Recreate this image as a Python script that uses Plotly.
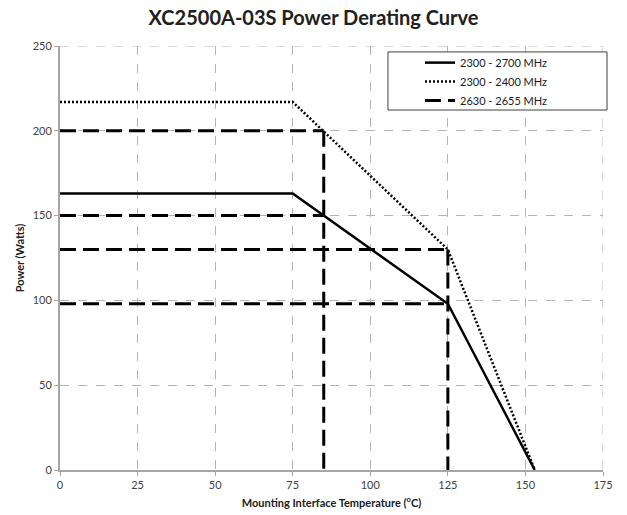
import plotly.graph_objects as go

# Data
solid_x = [0, 75, 125, 153]
solid_y = [163, 163, 98, 0]
dot_x = [0, 75, 125, 153]
dot_y = [217, 217, 130, 0]
# reference lines (2630 - 2655 MHz), segments separated by None
dash_x = [0, 85, None, 0, 85, None, 85, 85, None, 0, 125, None, 0, 125, None, 125, 125]
dash_y = [200, 200, None, 150, 150, None, 200, 0, None, 130, 130, None, 98, 98, None, 130, 0]

names = ["2300 - 2700 MHz", "2300 - 2400 MHz", "2630 - 2655 MHz"]
x_ticks = [0, 25, 50, 75, 100, 125, 150, 175]
y_ticks = [0, 50, 100, 150, 200, 250]

FONT = "Lato, Open Sans, sans-serif"

fig = go.Figure()
fig.add_trace(go.Scatter(x=solid_x, y=solid_y, mode="lines", name=names[0],
                         line=dict(color="black", width=2.5)))
fig.add_trace(go.Scatter(x=dot_x, y=dot_y, mode="lines", name=names[1],
                         line=dict(color="black", width=2.5, dash="2px,2px")))
fig.add_trace(go.Scatter(x=dash_x, y=dash_y, mode="lines", name=names[2],
                         connectgaps=False,
                         line=dict(color="black", width=3, dash="16px,7px")))

grid = "#b4b4b4"
axis_font = dict(family=FONT, size=11, color="#404040")
fig.update_layout(
    width=627, height=515,
    margin=dict(l=60, r=24, t=46, b=45, autoexpand=False),
    paper_bgcolor="white", plot_bgcolor="white",
    title=dict(text="<b>XC2500A-03S Power Derating Curve</b>", x=0.5, xanchor="center",
               y=1 - 18 / 515, yanchor="middle", yref="container",
               font=dict(family=FONT, size=20, color="#202020")),
    xaxis=dict(range=[0, 175], tickvals=x_ticks, showgrid=True, gridcolor=grid,
               griddash="dash", gridwidth=1, showline=True, linecolor="#a6a6a6", linewidth=2,
               ticks="outside", ticklen=4, tickcolor="#a6a6a6", zeroline=False,
               tickfont=axis_font, automargin=False,
               title=dict(text="<b>Mounting Interface Temperature (<sup>o</sup>C)</b>",
                          font=dict(family=FONT, size=11, color="#202020"),
                          standoff=9)),
    yaxis=dict(range=[0, 250], tickvals=y_ticks, showgrid=True, gridcolor=grid,
               griddash="dash", gridwidth=1, showline=True, linecolor="#a6a6a6", linewidth=2,
               ticks="outside", ticklen=4, tickcolor="#a6a6a6", zeroline=False,
               tickfont=axis_font, automargin=False,
               title=dict(text="<b>Power (Watts)</b>",
                          font=dict(family=FONT, size=11, color="#202020"),
                          standoff=6)),
    legend=dict(x=0.663, xanchor="left", y=0.995, yanchor="top",
                bgcolor="rgba(0,0,0,0)", borderwidth=0,
                font=dict(family=FONT, size=11, color="#202020"),
                tracegroupgap=0),
    showlegend=True,
)
# legend frame
fig.add_shape(type="rect", xref="paper", yref="paper", x0=0.604, x1=1.0074, y0=0.849, y1=0.986,
              line=dict(color="#404040", width=1), fillcolor="white", layer="above")
# top and right dashed border lines as gridlines at range ends
fig.add_shape(type="line", xref="x", yref="y", x0=0, x1=175, y0=250, y1=250,
              line=dict(color=grid, width=1, dash="dash"), layer="below")
fig.add_shape(type="line", xref="x", yref="y", x0=175, x1=175, y0=0, y1=250,
              line=dict(color=grid, width=1, dash="dash"), layer="below")

fig.write_html("out.html", config={"displayModeBar": False},
               post_script="document.body.style.margin='0';")
